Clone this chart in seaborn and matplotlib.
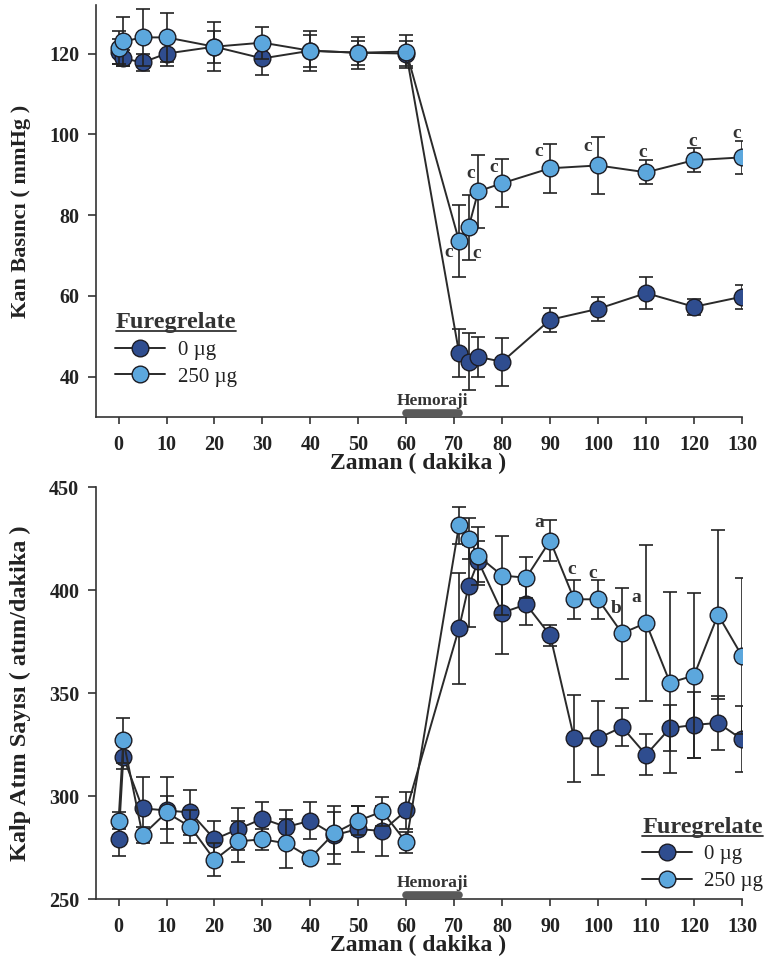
import matplotlib
matplotlib.use("Agg")
import matplotlib.pyplot as plt
from matplotlib.lines import Line2D
import seaborn as sns
import pandas as pd

# ---------------- data ----------------
series_labels = ["0 µg", "250 µg"]
legend_title = "Furegrelate"

# Blood pressure (top)
t_bp = [0, 1, 5, 10, 20, 30, 40, 50, 60, 71, 73, 75, 80, 90, 100, 110, 120, 130]
bp_0 = [120.5, 118.8, 117.8, 120.0, 121.7, 118.8, 120.7, 120.2, 120.0,
        45.9, 43.7, 44.9, 43.7, 54.1, 56.8, 60.7, 57.3, 59.8]
bp_0_err = [3, 2, 2, 3, 4, 4, 4, 3, 3, 6, 7, 5, 6, 3, 3, 4, 2, 3]
bp_250 = [121.5, 123.0, 124.0, 124.0, 121.7, 122.7, 120.7, 120.2, 120.5,
          73.6, 77.0, 85.9, 87.9, 91.6, 92.3, 90.6, 93.6, 94.3]
bp_250_err = [4, 6, 7, 6, 6, 4, 5, 4, 4, 9, 8, 9, 6, 6, 7, 3, 3, 4]
bp_sig = [(71, "c"), (73, "c"), (75, "c"), (80, "c"), (90, "c"),
          (100, "c"), (110, "c"), (120, "c"), (130, "c")]

# Heart rate (bottom)
t_hr = [0, 1, 5, 10, 15, 20, 25, 30, 35, 40, 45, 50, 55, 60,
        71, 73, 75, 80, 85, 90, 95, 100, 105, 110, 115, 120, 125, 130]
hr_0 = [279, 319, 294, 293, 292, 279, 284, 289, 285, 288, 281, 284, 283, 293,
        381.5, 402, 414, 389, 393, 378, 328, 328, 333.5, 320, 333, 334.5, 335.5, 327.5]
hr_0_err = [8, 6, 15, 16, 11, 9, 10, 8, 8, 9, 14, 11, 12, 9,
            27, 20, 10, 20, 10, 5, 21, 18, 9, 10, 11, 16, 13, 16]
hr_250 = [288, 327, 281, 292, 285, 269, 278, 279, 277, 270, 282, 288, 292.5, 277.5,
          431.5, 425, 416.5, 407, 406, 424, 395.5, 395.5, 379, 384, 355, 358.5, 388, 368]
hr_250_err = [4, 11, 4, 8, 8, 8, 10, 5, 12, 3, 10, 7, 7, 5,
              9, 10, 14, 19, 10, 10, 9.5, 9.5, 22, 38, 44, 40, 41, 38]
hr_sig = [(90, "a"), (95, "c"), (100, "c"), (105, "b"), (110, "a")]

x_ticks = list(range(0, 131, 10))
bp_ticks = [40, 60, 80, 100, 120]
hr_ticks = [250, 300, 350, 400, 450]
hem_start, hem_end = 60, 71

# ---------------- style ----------------
sns.set_style("ticks")
plt.rcParams["font.family"] = ["Liberation Serif", "DejaVu Serif"]

dark_c = "#2f4d8f"
light_c = "#5ca7dd"
line_c = "#2a2a2a"
edge_c = "#1c1c24"

fig = plt.figure(figsize=(7.75, 9.61), dpi=100)
ax1 = fig.add_axes([0.1239, 0.566, 0.8335, 0.4287])
ax2 = fig.add_axes([0.1239, 0.0645, 0.8335, 0.4287])


def draw_series(ax, t, v, e, face, z):
    ax.errorbar(t, v, yerr=e, fmt="none", ecolor="#222222", elinewidth=1.2,
                capsize=5, capthick=1.2, zorder=z)
    sns.lineplot(x=t, y=v, ax=ax, color=line_c, lw=1.4, marker="o",
                 markersize=12, markerfacecolor=face, markeredgecolor=edge_c,
                 markeredgewidth=1.0, zorder=z + 1)


def style_axes(ax, yticks, ylim, ylabel, ylabel_size):
    ax.set_xlim(-4.7, 130)
    ax.set_ylim(*ylim)
    ax.set_xticks(x_ticks)
    ax.set_yticks(yticks)
    ax.set_xticklabels([str(x) for x in x_ticks], fontsize=14.5, fontweight="bold")
    ax.set_yticklabels([str(y) for y in yticks], fontsize=14.5, fontweight="bold")
    ax.tick_params(axis="x", direction="out", length=5, width=1.1, pad=8, colors="#222222")
    ax.tick_params(axis="y", direction="out", length=6, width=1.1, pad=6, colors="#222222")
    for s in ["top", "right"]:
        ax.spines[s].set_visible(False)
    for s in ["left", "bottom"]:
        ax.spines[s].set_linewidth(1.2)
        ax.spines[s].set_color("#333333")
    ax.set_xlabel("Zaman ( dakika )", fontsize=17, fontweight="bold", color="#222222")
    ax.set_ylabel(ylabel, fontsize=ylabel_size, fontweight="bold", color="#222222")
    ax.xaxis.set_label_coords(0.498, -0.088)
    ax.yaxis.set_label_coords(-0.1, 0.5)
    ax.set_facecolor("none")
    # hemorrhage bar
    ax.plot([hem_start, hem_end], [0.009, 0.009], transform=ax.get_xaxis_transform(),
            lw=5.5, color="#5a5a5a", solid_capstyle="round", clip_on=False, zorder=6)
    ax.text((hem_start + hem_end) / 2, 0.02, "Hemoraji", transform=ax.get_xaxis_transform(),
            ha="center", va="bottom", fontsize=12.5, fontweight="bold", color="#333333")


def add_legend(ax, anchor):
    handles = [
        Line2D([0], [0], color=line_c, lw=1.4, marker="o", markersize=12,
               markerfacecolor=dark_c, markeredgecolor=edge_c, markeredgewidth=1.0),
        Line2D([0], [0], color=line_c, lw=1.4, marker="o", markersize=12,
               markerfacecolor=light_c, markeredgecolor=edge_c, markeredgewidth=1.0),
    ]
    leg = ax.legend(handles, series_labels, title=legend_title, loc="upper left",
                    bbox_to_anchor=anchor, frameon=False, fontsize=15,
                    handlelength=2.4, handletextpad=0.6, labelspacing=0.35,
                    borderpad=0, borderaxespad=0)
    leg.get_title().set_fontsize(17.5)
    leg.get_title().set_fontweight("bold")
    leg.get_title().set_color("#333333")
    for txt in leg.get_texts():
        txt.set_color("#222222")
    return leg


def add_letters(ax, t, v, sig, offsets):
    for (tt, lab), (dx, dy) in zip(sig, offsets):
        i = t.index(tt)
        ax.annotate(lab, xy=(tt, v[i]), xytext=(dx, dy), textcoords="offset pixels",
                    ha="center", va="center", fontsize=14, fontweight="bold",
                    color="#333333", zorder=8)


# top panel
draw_series(ax1, t_bp, bp_0, bp_0_err, dark_c, 2)
draw_series(ax1, t_bp, bp_250, bp_250_err, light_c, 4)
style_axes(ax1, bp_ticks, (30, 132), "Kan Basıncı ( mmHg )", 16)
leg1 = add_legend(ax1, (0.03, 0.255))
add_letters(ax1, t_bp, bp_250, bp_sig,
            [(-10, -12), (8, -26), (-8, 18), (-9, 16), (-11, 17), (-10, 19),
             (-3, 20), (-1, 19), (-5, 24)])

# bottom panel
draw_series(ax2, t_hr, hr_0, hr_0_err, dark_c, 2)
draw_series(ax2, t_hr, hr_250, hr_250_err, light_c, 4)
style_axes(ax2, hr_ticks, (250, 450), "Kalp Atım Sayısı ( atım/dakika )", 17.5)
leg2 = add_legend(ax2, (0.845, 0.2))
add_letters(ax2, t_hr, hr_250, hr_sig,
            [(-11, 18), (-2, 30), (-5, 26), (-6, 25), (-10, 25)])

# underline legend titles
fig.canvas.draw()
for leg in (leg1, leg2):
    bb = leg.get_title().get_window_extent()
    (x0, y0), (x1, _) = fig.transFigure.inverted().transform([[bb.x0, bb.y0], [bb.x1, bb.y0]])
    fig.add_artist(Line2D([x0, x1], [y0 + 0.002, y0 + 0.002], transform=fig.transFigure,
                          color="#333333", lw=1.3))

fig.savefig("out.png", dpi=100)
